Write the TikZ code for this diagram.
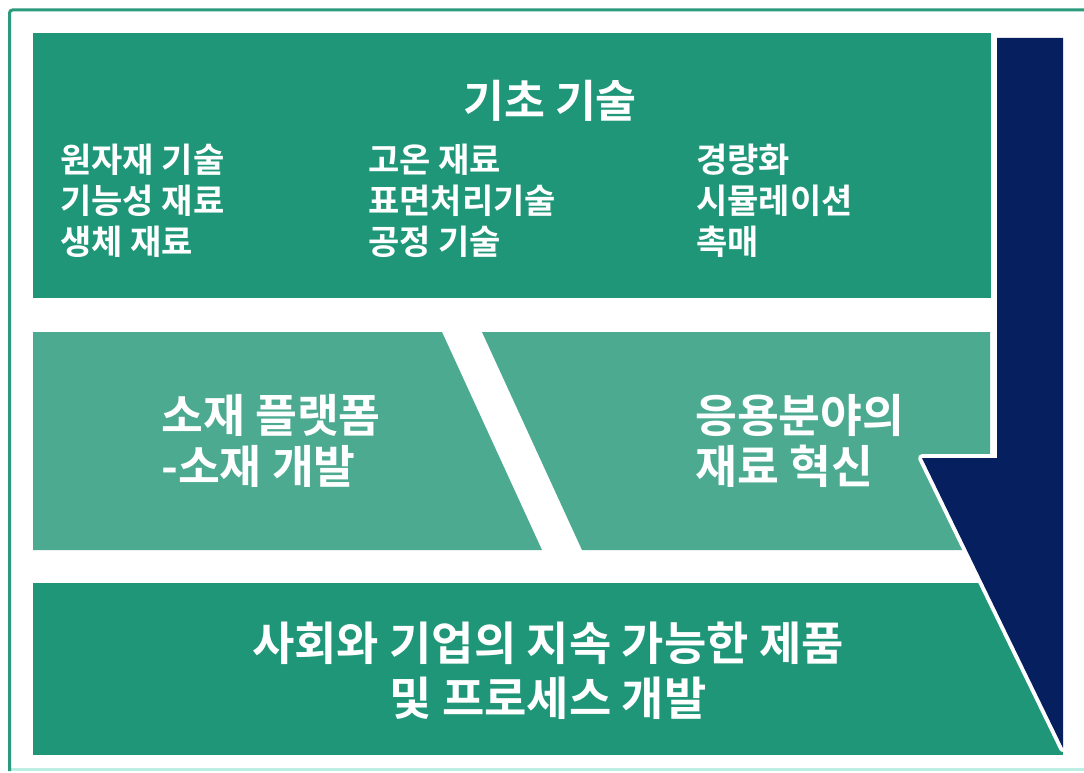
\documentclass[tikz,border=0pt]{standalone}
\usepackage{fontspec}
\newfontfamily\kr{Noto Sans CJK KR}[BoldFont={Noto Sans CJK KR Bold}]
\definecolor{darkteal}{HTML}{1F9678}
\definecolor{lightteal}{HTML}{4CAA91}
\definecolor{navyc}{HTML}{061F5E}
\definecolor{framec}{HTML}{2C9A7C}
\definecolor{framelow}{HTML}{BDEEE4}
\tikzset{
  big/.style={text=white, inner sep=0pt, font=\kr\bfseries\fontsize{45.5}{51}\selectfont},
  item/.style={text=white, inner sep=0pt, anchor=west, align=left, font=\kr\bfseries\fontsize{34}{41}\selectfont},
}
\begin{document}
\begin{tikzpicture}[x=1pt,y=-1pt]
\useasboundingbox (0,0) rectangle (1084,773);
\fill[white] (0,0) rectangle (1084,773);
% frame
\draw[framelow, line width=2.5] (9.5,769.5) -- (1084,769.5);
\draw[framec, line width=3, rounded corners=3] (9.5,771) -- (9.5,10) -- (1090,10);
% boxes
\fill[darkteal] (33,33) rectangle (991,298);
\fill[lightteal] (33,332) -- (442,332) -- (542,550) -- (33,550) -- cycle;
\fill[lightteal] (482,332) -- (990,332) -- (990,550) -- (582,550) -- cycle;
\fill[darkteal] (33,583) rectangle (1063,755);
% arrow with white halo
\path[fill=white, draw=white, line width=8, line join=round] (997,38) -- (1063,38) -- (1063,748) -- (922,458) -- (997,458) -- cycle;
\fill[navyc] (997,38) -- (1063,38) -- (1063,748) -- (922,458) -- (997,458) -- cycle;
% texts
\node[big, font=\kr\bfseries\fontsize{44.5}{50}\selectfont] (title) at (550,101) {기초 기술};
\node[item] (c1) at (60,201) {원자재 기술\\기능성 재료\\생체 재료};
\node[item] (c2) at (368,201) {고온 재료\\표면처리기술\\공정 기술};
\node[item] (c3) at (696,201) {경량화\\시뮬레이션\\촉매};
\node[big, anchor=west, align=left] (ml) at (161,441) {소재 플랫폼\\-소재 개발};
\node[big, anchor=west, align=left] (mr) at (695,441) {응용분야의\\재료 혁신};
\node[big, align=center, font=\kr\bfseries\fontsize{46}{55}\selectfont] (bot) at (548,671) {사회와 기업의 지속 가능한 제품\\및 프로세스 개발};
\end{tikzpicture}
\end{document}
